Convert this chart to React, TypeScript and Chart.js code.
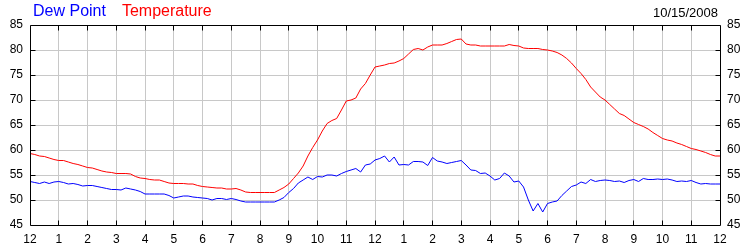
import React, { useEffect, useRef } from 'react';
import { Chart, registerables } from 'chart.js';

Chart.register(...registerables);

const hourLabels = ['12', '1', '2', '3', '4', '5', '6', '7', '8', '9', '10', '11', '12', '1', '2', '3', '4', '5', '6', '7', '8', '9', '10', '11', '12'];
const samplesPerHour = 6;

const temperature = [
  59.3, 59.1, 58.8, 58.7, 58.4, 58.1,
  57.9, 57.9, 57.6, 57.3, 57.1, 56.8,
  56.5, 56.4, 56.1, 55.8, 55.6, 55.5,
  55.3, 55.3, 55.3, 55.2, 54.7, 54.4,
  54.3, 54.1, 54.0, 54.0, 53.7, 53.4,
  53.3, 53.3, 53.3, 53.2, 53.2, 52.9,
  52.7, 52.6, 52.5, 52.4, 52.4, 52.2,
  52.2, 52.3, 52.0, 51.6, 51.5, 51.5,
  51.5, 51.5, 51.5, 51.5, 52.0, 52.5,
  53.2, 54.3, 55.4, 56.8, 58.8, 60.5,
  62.0, 63.8, 65.3, 65.9, 66.3, 68.0,
  69.8, 70.0, 70.4, 72.2, 73.3, 75.0,
  76.6, 76.8, 77.0, 77.3, 77.4, 77.8,
  78.3, 79.2, 80.1, 80.3, 80.0, 80.6,
  81.0, 81.0, 81.0, 81.3, 81.7, 82.1,
  82.2, 81.2, 81.0, 81.0, 80.8, 80.8,
  80.8, 80.8, 80.8, 80.8, 81.1, 80.9,
  80.8, 80.4, 80.3, 80.3, 80.3, 80.1,
  80.0, 79.8, 79.5, 79.0, 78.3, 77.4,
  76.3, 75.3, 74.1, 72.6, 71.6, 70.6,
  70.0, 69.1, 68.2, 67.3, 66.9, 66.2,
  65.5, 65.1, 64.7, 64.2, 63.5, 62.9,
  62.3, 62.0, 61.8, 61.4, 61.1, 60.7,
  60.3, 60.1, 59.8, 59.5, 59.1, 58.8,
  58.8,
];

const dewPoint = [
  53.7, 53.5, 53.3, 53.6, 53.3, 53.6,
  53.7, 53.5, 53.2, 53.3, 53.1, 52.8,
  52.9, 52.9, 52.7, 52.5, 52.3, 52.1,
  52.1, 52.0, 52.4, 52.2, 52.0, 51.7,
  51.2, 51.2, 51.2, 51.2, 51.2, 50.9,
  50.4, 50.6, 50.8, 50.8, 50.6, 50.5,
  50.4, 50.3, 50.0, 50.3, 50.3, 50.1,
  50.3, 50.1, 49.8, 49.6, 49.6, 49.6,
  49.6, 49.6, 49.6, 49.6, 50.0, 50.5,
  51.5, 52.3, 53.4, 54.0, 54.6, 54.1,
  54.7, 54.6, 55.0, 55.0, 54.8, 55.3,
  55.7, 56.0, 56.3, 55.6, 57.0, 57.2,
  58.0, 58.3, 58.8, 57.6, 58.6, 57.0,
  57.1, 57.0, 57.7, 57.7, 57.6, 56.9,
  58.5, 57.8, 57.6, 57.3, 57.5, 57.7,
  57.9, 57.0, 56.0, 55.9, 55.3, 55.4,
  54.8, 54.0, 54.3, 55.4, 54.8, 53.6,
  53.8, 52.6, 50.0, 47.8, 49.3, 47.6,
  49.3, 49.6, 49.8, 50.9, 51.8, 52.7,
  53.0, 53.6, 53.3, 54.1, 53.7, 53.9,
  54.0, 53.9, 53.7, 53.8, 53.5, 53.9,
  54.1, 53.7, 54.3, 54.1, 54.1, 54.2,
  54.1, 54.2, 54.0, 53.7, 53.8, 53.7,
  53.9, 53.5, 53.2, 53.3, 53.2, 53.2,
  53.2,
];

const yMin = 45;
const yMax = 85;
const yStep = 5;

const dewLabel = 'Dew Point';
const tempLabel = 'Temperature';
const dateLabel = '10/15/2008';

const FONT = '"Liberation Sans", Arial, sans-serif';
const GRID = '#c8c8c8';

const framePlugin = {
  id: 'frameTicks',
  afterDatasetsDraw(chart: any) {
    const { ctx, chartArea: a, scales } = chart;
    const al = (v: number) => Math.floor(v) + 0.5;
    ctx.save();
    ctx.strokeStyle = '#000';
    ctx.lineWidth = 1;
    ctx.beginPath();
    const L = al(a.left), R = al(a.right), T = al(a.top), B = al(a.bottom);
    ctx.moveTo(L, T); ctx.lineTo(R, T); ctx.lineTo(R, B); ctx.lineTo(L, B); ctx.closePath();
    for (let h = 1; h < hourLabels.length - 1; h++) {
      const px = al(scales.x.getPixelForValue(h));
      ctx.moveTo(px, T); ctx.lineTo(px, T + 5);
      ctx.moveTo(px, B); ctx.lineTo(px, B - 5);
    }
    for (let v = yMin + yStep; v < yMax; v += yStep) {
      const py = al(scales.y.getPixelForValue(v));
      ctx.moveTo(L, py); ctx.lineTo(L + 5, py);
      ctx.moveTo(R, py); ctx.lineTo(R - 5, py);
    }
    ctx.stroke();
    ctx.restore();
  },
};

export default function App() {
  const canvasRef = useRef<HTMLCanvasElement | null>(null);

  useEffect(() => {
    const canvas = canvasRef.current;
    if (!canvas) return;
    const tickFont = { family: FONT, size: 12 };
    const chart = new Chart(canvas, {
      type: 'line',
      data: {
        datasets: [
          {
            label: tempLabel,
            data: temperature.map((v, i) => ({ x: i / samplesPerHour, y: v })),
            borderColor: '#ff0000',
            borderWidth: 1,
            pointRadius: 0,
            tension: 0,
            fill: false,
            yAxisID: 'y',
          },
          {
            label: dewLabel,
            data: dewPoint.map((v, i) => ({ x: i / samplesPerHour, y: v })),
            borderColor: '#0000ff',
            borderWidth: 1,
            pointRadius: 0,
            tension: 0,
            fill: false,
            yAxisID: 'y',
          },
        ],
      },
      options: {
        animation: false,
        responsive: false,
        devicePixelRatio: 1,
        layout: { padding: { top: 25, left: 0, right: 0, bottom: 0 } },
        plugins: {
          legend: { display: false },
          tooltip: { enabled: false },
          title: { display: false },
        },
        scales: {
          x: {
            type: 'linear',
            min: 0,
            max: hourLabels.length - 1,
            afterFit: (s: any) => { s.height = 25; },
            ticks: {
              stepSize: 1,
              autoSkip: false,
              maxRotation: 0,
              padding: 7,
              color: '#000',
              font: tickFont,
              callback: (v: any) => hourLabels[Math.round(Number(v))] ?? '',
            },
            grid: { color: GRID, drawTicks: false },
            border: { display: false },
          },
          y: {
            position: 'left',
            min: yMin,
            max: yMax,
            afterFit: (s: any) => { s.width = 30; },
            ticks: { stepSize: yStep, padding: 7, color: '#000', font: tickFont },
            grid: { color: GRID, drawTicks: false },
            border: { display: false },
          },
          y2: {
            position: 'right',
            min: yMin,
            max: yMax,
            afterFit: (s: any) => { s.width = 30; },
            ticks: { stepSize: yStep, padding: 7, color: '#000', font: tickFont },
            grid: { display: false, drawTicks: false },
            border: { display: false },
          },
        },
      } as any,
      plugins: [framePlugin],
    });
    return () => chart.destroy();
  }, []);

  return (
    <div style={{ position: 'absolute', left: 0, top: 0, width: 750, height: 250, background: '#fff', fontFamily: FONT }}>
      <canvas ref={canvasRef} width={750} height={250} style={{ display: 'block', width: 750, height: 250 }} />
      <div style={{ position: 'absolute', left: 33, top: 3, fontSize: 16, lineHeight: '16px', whiteSpace: 'nowrap' }}>
        <span style={{ color: '#0000ff' }}>{dewLabel}</span>
        <span style={{ color: '#ff0000', marginLeft: 16 }}>{tempLabel}</span>
      </div>
      <div style={{ position: 'absolute', right: 32, top: 6, fontSize: 13, lineHeight: '13px', color: '#000', whiteSpace: 'nowrap' }}>
        {dateLabel}
      </div>
    </div>
  );
}
